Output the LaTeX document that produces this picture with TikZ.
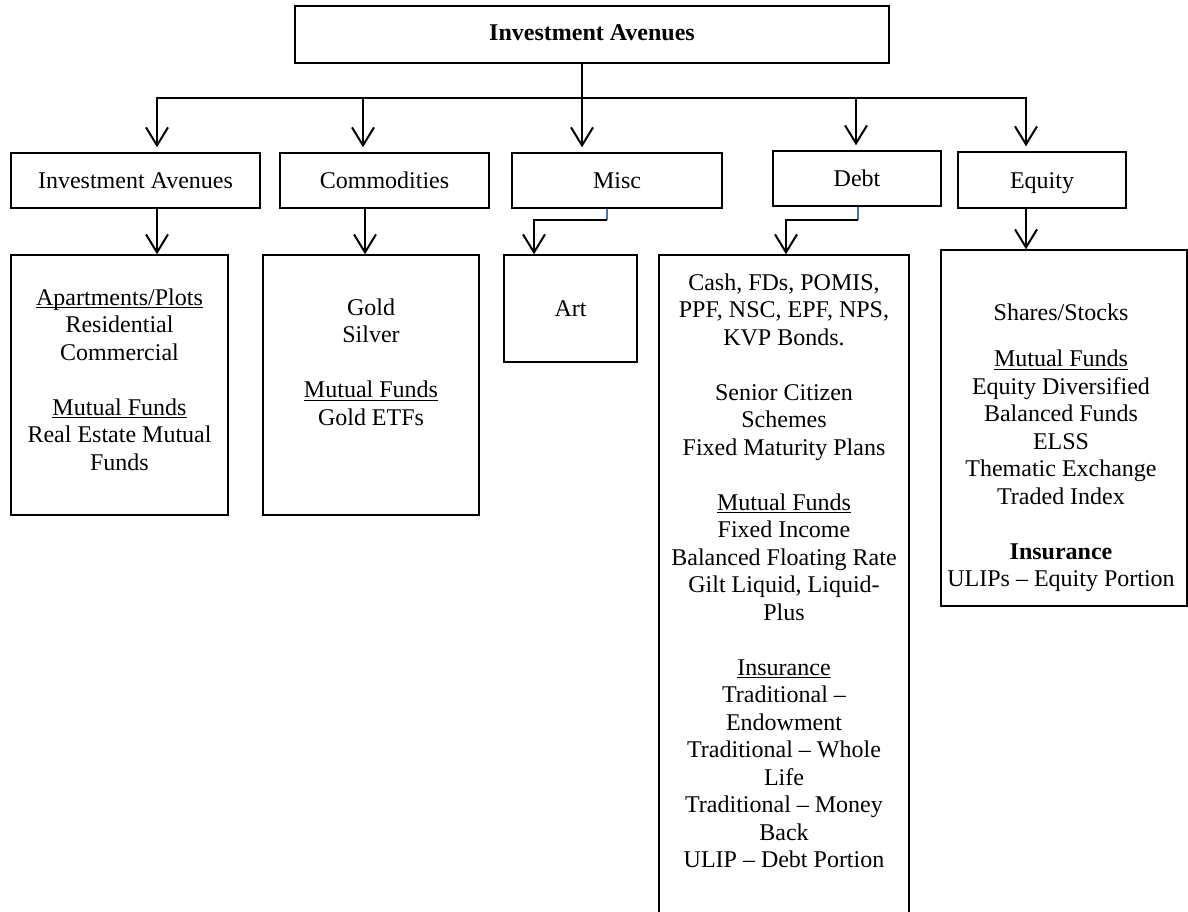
\documentclass[tikz,border=0pt]{standalone}
\usepackage{fontspec}
\setmainfont{Liberation Serif}
\usetikzlibrary{arrows.meta}
\definecolor{blueline}{HTML}{4472C4}
\newcommand\myul[1]{\setbox0\hbox{#1}\rlap{\rule[-1.5pt]{\wd0}{0.6pt}}#1}
\tikzset{
  box/.style={draw, line width=0.7pt, inner sep=0pt, font=\fontsize{12}{13.75}\selectfont},
  sz/.style 2 args={minimum width=#1*0.5pt, minimum height=#2*0.5pt},
  lbl/.style={text height=8pt, text depth=0pt},
  txt/.style={anchor=north, align=center, inner sep=0pt, font=\fontsize{12}{13.75}\selectfont},
  conn/.style={line width=1pt},
  arr/.style={line width=1pt, -{Straight Barb[length=9pt,width=11pt]}},
  bl/.style={draw=blueline, line width=0.6pt}}
\begin{document}
\begin{tikzpicture}[x=0.5pt,y=-0.5pt]
\useasboundingbox (0,0) rectangle (1188,911);
% top
\node[box, sz={594}{57}, text height=8pt, text depth=2.5pt, font=\fontsize{12}{13.75}\selectfont\bfseries] (top) at (592,34.5) {Investment Avenues};
% level 2
\node[box, sz={249}{55}, lbl] (ia2) at (135.5,180.5) {Investment Avenues};
\node[box, sz={209}{55}, lbl] (co2) at (384.5,180.5) {Commodities};
\node[box, sz={210}{55}, lbl] (mi2) at (617,180.5) {Misc};
\node[box, sz={168}{55}, lbl] (de2) at (857,178.5) {Debt};
\node[box, sz={168}{56}, lbl] (eq2) at (1042,180) {Equity};
% level 3 boxes
\node[box, sz={217}{260}] (ia3) at (119.5,385) {};
\node[box, sz={216}{260}] (co3) at (371,385) {};
\node[box, sz={133}{107}, lbl] (art) at (570.5,308.5) {Art};
\node[box, sz={250}{670}] (de3) at (784,590) {};
\node[box, sz={246}{356}] (eq3) at (1064,428) {};
% texts
\node[txt] (ia3t) at (119.5,285.75) {\strut\myul{Apartments/Plots}\\ Residential\\ Commercial\\[13.75pt] \myul{Mutual Funds}\\ Real Estate Mutual\\ Funds};
\node[txt] (co3t) at (371,295.75) {\strut Gold\\ Silver\\[13.75pt] \myul{Mutual Funds}\\ Gold ETFs};
\node[txt] (de3t) at (784,270.75) {\strut Cash, FDs, POMIS,\\ PPF, NSC, EPF, NPS,\\ KVP Bonds.\\[13.75pt] Senior Citizen\\ Schemes\\ Fixed Maturity Plans\\[13.75pt] \myul{Mutual Funds}\\ Fixed Income\\ Balanced Floating Rate\\ Gilt Liquid, Liquid-\\ Plus\\[13.75pt] \myul{Insurance}\\ Traditional –\\ Endowment\\ Traditional – Whole\\ Life\\ Traditional – Money\\ Back\\ ULIP – Debt Portion};
\node[txt] (eq3t) at (1061,300.75) {\strut Shares/Stocks\\[9.5pt] \myul{Mutual Funds}\\ Equity Diversified\\ Balanced Funds\\ ELSS\\ Thematic Exchange\\ Traded Index\\[13.75pt] \textbf{Insurance}\\ ULIPs – Equity Portion};
% bus
\coordinate (b1) at (157,98);
\coordinate (b2) at (363,98);
\coordinate (b3) at (582,98);
\coordinate (b4) at (856,98);
\coordinate (b5) at (1026,98);
\draw[conn] (b2) -- (b4);
\draw[conn] (top.south -| b3) -- (b3);
\draw[arr, shorten >=2.5pt] (b2) -- (b1) -- (b1 |- ia2.north);
\draw[arr, shorten >=2.5pt] (b2) -- (b2 |- co2.north);
\draw[arr, shorten >=2.5pt] (b3) -- (b3 |- mi2.north);
\draw[arr, shorten >=2.5pt] (b4) -- (b4 |- de2.north);
\draw[arr, shorten >=2.5pt] (b4) -- (b5) -- (b5 |- eq2.north);
% lower connectors
\coordinate (c1) at (157,230);
\coordinate (c2) at (365,230);
\coordinate (c5) at (1026,230);
\draw[arr] (ia2.south -| c1) -- (c1 |- ia3.north);
\draw[arr] (co2.south -| c2) -- (c2 |- co3.north);
\draw[arr] (eq2.south -| c5) -- (c5 |- eq3.north);
\coordinate (mj) at (607,220);
\coordinate (mk) at (534,220);
\draw[bl] (mi2.south -| mj) -- (mj);
\draw[arr] (mj) -- (mk) -- (mk |- art.north);
\coordinate (dj) at (858,220);
\coordinate (dk) at (786,220);
\draw[bl] (de2.south -| dj) -- (dj);
\draw[arr] (dj) -- (dk) -- (dk |- de3.north);
\end{tikzpicture}
\end{document}
